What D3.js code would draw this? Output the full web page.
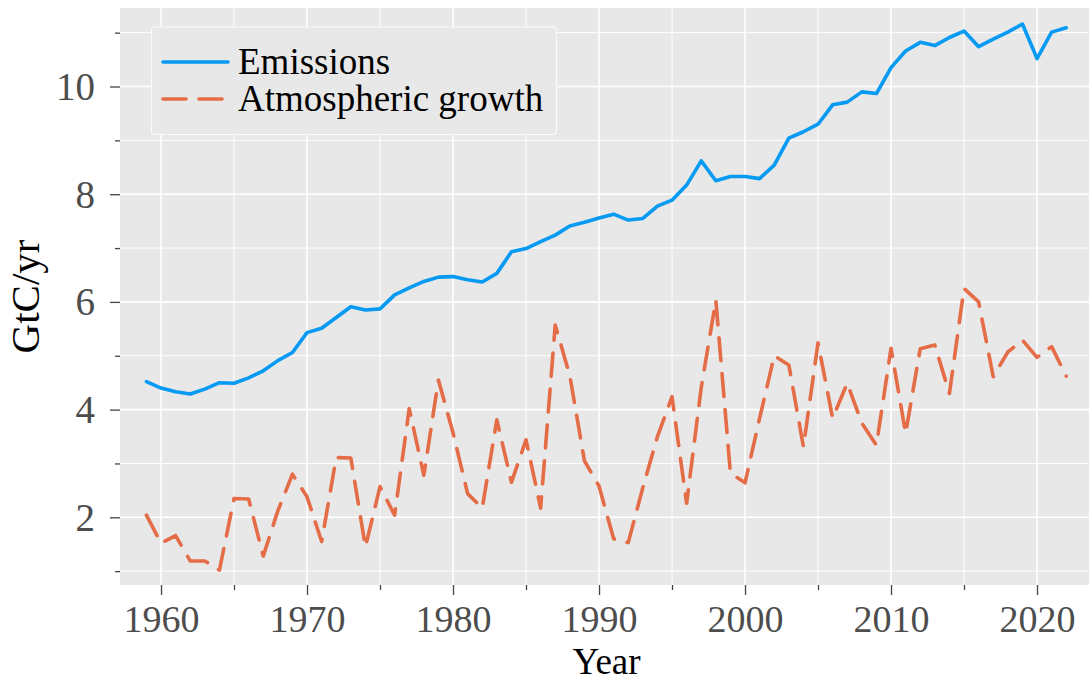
<!DOCTYPE html>
<html>
<head>
<meta charset="utf-8">
<script src="https://cdn.jsdelivr.net/npm/d3@7"></script>
<style>
  html, body { margin: 0; padding: 0; background: #ffffff; }
  svg { display: block; }
</style>
</head>
<body>
<svg id="chart" width="1089" height="682"></svg>
<script>
// ---- Data (GtC/yr) ----
const years = d3.range(1959, 2023);
const emissions = [
  4.52, 4.40, 4.33, 4.29, 4.38, 4.50, 4.49, 4.59, 4.72, 4.91,
  5.06, 5.43, 5.51, 5.71, 5.91, 5.85, 5.87, 6.13, 6.26, 6.38,
  6.46, 6.47, 6.41, 6.37, 6.53, 6.93, 6.99, 7.12, 7.24, 7.41,
  7.48, 7.56, 7.63, 7.52, 7.55, 7.78, 7.89, 8.17, 8.62, 8.25,
  8.33, 8.33, 8.29, 8.54, 9.04, 9.16, 9.30, 9.66, 9.71, 9.90,
  9.87, 10.35, 10.66, 10.82, 10.76, 10.91, 11.03, 10.74, 10.88, 11.01,
  11.16, 10.52, 11.01, 11.09
];
const atmosphericGrowth = [
  2.04, 1.52, 1.66, 1.19, 1.19, 1.02, 2.35, 2.34, 1.28, 2.12,
  2.80, 2.38, 1.55, 3.11, 3.10, 1.45, 2.57, 2.04, 4.02, 2.78,
  4.55, 3.57, 2.44, 2.17, 3.81, 2.65, 3.44, 2.17, 5.57, 4.63,
  3.05, 2.58, 1.60, 1.53, 2.55, 3.50, 4.24, 2.26, 4.41, 6.03,
  2.82, 2.64, 3.84, 5.00, 4.83, 3.31, 5.24, 3.84, 4.49, 3.75,
  3.34, 5.14, 3.56, 5.13, 5.20, 4.30, 6.25, 6.00, 4.61, 5.07,
  5.29, 4.97, 5.17, 4.62
];
const seriesNames = ["Emissions", "Atmospheric growth"];
const xMajorTicks = [1960, 1970, 1980, 1990, 2000, 2010, 2020];
const xMinorTicks = [1965, 1975, 1985, 1995, 2005, 2015];
const yMajorTicks = [2, 4, 6, 8, 10];
const yMinorTicks = [1, 3, 5, 7, 9, 11];
const xLabel = "Year";
const yLabel = "GtC/yr";

// ---- Layout ----
const plot = { left: 120, right: 1089, top: 8, bottom: 585 };
const FONT = "'Liberation Serif', 'Times New Roman', serif";
const colors = { em: "#069AF3", atm: "#E46C46" };

const svg = d3.select("#chart");

const x = d3.scaleLinear().domain([1957.19, 2023.56]).range([plot.left, plot.right]);
const y = d3.scaleLinear().domain([0.743, 11.458]).range([plot.bottom, plot.top]);

// background
svg.append("rect")
  .attr("x", plot.left).attr("y", plot.top)
  .attr("width", plot.right - plot.left).attr("height", plot.bottom - plot.top)
  .attr("fill", "#E8E8E8");

// grid
const grid = svg.append("g");
grid.selectAll(".vminor").data(xMinorTicks).join("line")
  .attr("x1", d => x(d)).attr("x2", d => x(d))
  .attr("y1", plot.top).attr("y2", plot.bottom)
  .attr("stroke", "#fff").attr("stroke-width", 1);
grid.selectAll(".vmajor").data(xMajorTicks).join("line")
  .attr("x1", d => x(d)).attr("x2", d => x(d))
  .attr("y1", plot.top).attr("y2", plot.bottom)
  .attr("stroke", "#fff").attr("stroke-width", 1.6);
grid.selectAll(".hminor").data(yMinorTicks).join("line")
  .attr("x1", plot.left).attr("x2", plot.right)
  .attr("y1", d => y(d)).attr("y2", d => y(d))
  .attr("stroke", "#fff").attr("stroke-width", 1);
grid.selectAll(".hmajor").data(yMajorTicks).join("line")
  .attr("x1", plot.left).attr("x2", plot.right)
  .attr("y1", d => y(d)).attr("y2", d => y(d))
  .attr("stroke", "#fff").attr("stroke-width", 1.6);

// axes
function styleAxis(g) {
  g.select(".domain").remove();
  g.selectAll(".tick line").attr("stroke", "#444").attr("stroke-width", 1.3);
  g.selectAll(".tick text").attr("fill", "#4D4D4D")
    .style("font-family", FONT).style("font-size", "38px");
}
const xAxis = svg.append("g").attr("transform", `translate(0,${plot.bottom})`)
  .call(d3.axisBottom(x).tickValues(xMajorTicks).tickFormat(d3.format("d")).tickSize(10).tickPadding(12));
styleAxis(xAxis);
xAxis.selectAll(".tick text").attr("dy", null).attr("y", 47);
svg.append("g").attr("transform", `translate(0,${plot.bottom})`)
  .call(d3.axisBottom(x).tickValues(xMinorTicks).tickFormat("").tickSize(5))
  .call(styleAxis);

const yAxis = svg.append("g").attr("transform", `translate(${plot.left},0)`)
  .call(d3.axisLeft(y).tickValues(yMajorTicks).tickFormat(d3.format("d")).tickSize(10).tickPadding(15));
styleAxis(yAxis);
yAxis.selectAll(".tick text").attr("dy", "0.33em").style("font-size", "39px");
svg.append("g").attr("transform", `translate(${plot.left},0)`)
  .call(d3.axisLeft(y).tickValues(yMinorTicks).tickFormat("").tickSize(5))
  .call(styleAxis);

// axis labels
svg.append("text")
  .attr("x", (plot.left + plot.right) / 2 + 2).attr("y", 674)
  .attr("text-anchor", "middle")
  .style("font-family", FONT).style("font-size", "37px").attr("fill", "#000")
  .text(xLabel);
svg.append("text")
  .attr("transform", `translate(39,${(plot.top + plot.bottom) / 2}) rotate(-90)`)
  .attr("text-anchor", "middle")
  .style("font-family", FONT).style("font-size", "41px").attr("fill", "#000")
  .text(yLabel);

// lines
const line = (vals) => d3.line().x((d, i) => x(years[i])).y(d => y(d))(vals);
const clip = svg.append("clipPath").attr("id", "clip").append("rect")
  .attr("x", plot.left).attr("y", plot.top)
  .attr("width", plot.right - plot.left).attr("height", plot.bottom - plot.top);
const lines = svg.append("g").attr("clip-path", "url(#clip)");
lines.append("path").attr("d", line(atmosphericGrowth))
  .attr("fill", "none").attr("stroke", colors.atm).attr("stroke-width", 3.6)
  .attr("stroke-dasharray", "23,13").attr("stroke-linecap", "round").attr("stroke-linejoin", "round");
lines.append("path").attr("d", line(emissions))
  .attr("fill", "none").attr("stroke", colors.em).attr("stroke-width", 3.6)
  .attr("stroke-linecap", "round").attr("stroke-linejoin", "round");

// legend
const lg = svg.append("g");
lg.append("rect").attr("x", 151.5).attr("y", 27).attr("width", 405).attr("height", 107.5)
  .attr("rx", 3).attr("fill", "#E8E8E8").attr("stroke", "#fafafa").attr("stroke-width", 1.2);
const legendItems = [
  { name: seriesNames[0], color: colors.em, dash: null, yy: 62 },
  { name: seriesNames[1], color: colors.atm, dash: "23,13", yy: 99 }
];
legendItems.forEach(it => {
  lg.append("line").attr("x1", 163).attr("x2", 228).attr("y1", it.yy).attr("y2", it.yy)
    .attr("stroke", it.color).attr("stroke-width", 3.6).attr("stroke-linecap", "round")
    .attr("stroke-dasharray", it.dash);
  lg.append("text").attr("x", 238).attr("y", it.yy).attr("dy", "0.33em")
    .style("font-family", FONT).style("font-size", "37px").attr("fill", "#000")
    .text(it.name);
});
</script>
</body>
</html>
